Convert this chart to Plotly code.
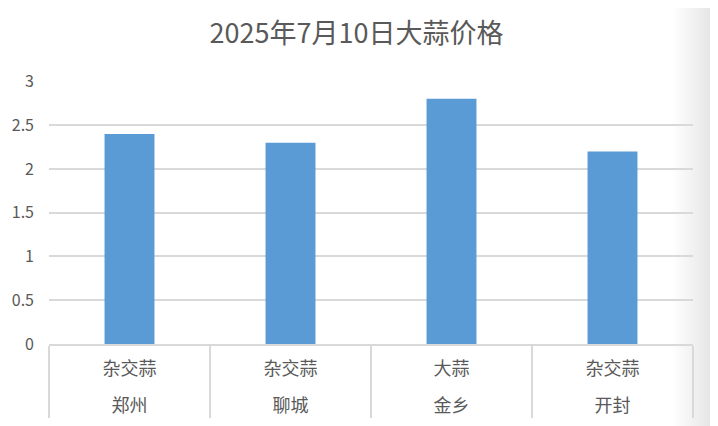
import plotly.graph_objects as go

# 2025-07-10 garlic prices (yuan/jin)
cities = ['郑州', '聊城', '金乡', '开封']
kinds = ['杂交蒜', '杂交蒜', '大蒜', '杂交蒜']
prices = [2.4, 2.3, 2.8, 2.2]
y_ticks = [0, 0.5, 1, 1.5, 2, 2.5, 3]

BAR_COLOR = '#5B9BD5'
TEXT_COLOR = '#595959'
GRID_COLOR = '#d9d9d9'
FONT = 'Noto Sans CJK SC'

# the page body adds 8px, so the figure is laid out 8px up/left
OFF = 8
W, H = 718 - OFF, 426 - OFF


def main():
    # shift the city row further below the garlic type row
    city_labels = ['<span style="baseline-shift:-17px">%s</span>' % c
                   for c in cities]

    fig = go.Figure()
    fig.add_trace(go.Bar(x=[city_labels, kinds],
                         y=prices,
                         marker=dict(color=BAR_COLOR, line=dict(width=0)),
                         width=0.31))

    l, t = 49 - OFF, 81 - OFF
    r, b = W - (693 - OFF), H - (344 - OFF)
    pw, ph = W - l - r, H - t - b

    # soft grey shadow on the right edge of the picture
    steps = 12
    for i in range(steps):
        px = 674 - OFF + i * 3
        fig.add_shape(type='rect', xref='paper', yref='paper',
                      x0=(px - l) / pw, x1=(W - l) / pw,
                      y0=-b / ph, y1=(H - b) / ph, layer='below',
                      fillcolor='rgba(0,0,0,0.008)', line=dict(width=0))

    fig.update_layout(
        width=W, height=H,
        margin=dict(l=l, r=r, t=t, b=b, autoexpand=False),
        paper_bgcolor='white', plot_bgcolor='rgba(0,0,0,0)',
        font=dict(family=FONT, size=16, color=TEXT_COLOR),
        title=dict(text='2025年7月10日大蒜价格', x=348.5 / W, xanchor='center',
                   y=1 - 25.5 / H, yanchor='middle',
                   font=dict(family=FONT, size=27, color=TEXT_COLOR)),
        showlegend=False,
    )
    fig.update_xaxes(type='multicategory', showline=True, linecolor=GRID_COLOR,
                     linewidth=1.5, showdividers=True, dividercolor=GRID_COLOR,
                     dividerwidth=1.5, tickfont=dict(size=18, color=TEXT_COLOR),
                     ticks='', ticklabelstandoff=8,
                     showgrid=False, automargin=False)
    fig.update_yaxes(range=[0, 3.004], tickvals=y_ticks,
                     ticktext=[str(v) for v in y_ticks],
                     showgrid=True, gridcolor=GRID_COLOR, gridwidth=1.5,
                     zeroline=False, showline=False, ticks='',
                     ticklabelstandoff=14, automargin=False,
                     tickfont=dict(size=16, color=TEXT_COLOR))
    fig.write_html('out.html')


if __name__ == '__main__':
    main()
